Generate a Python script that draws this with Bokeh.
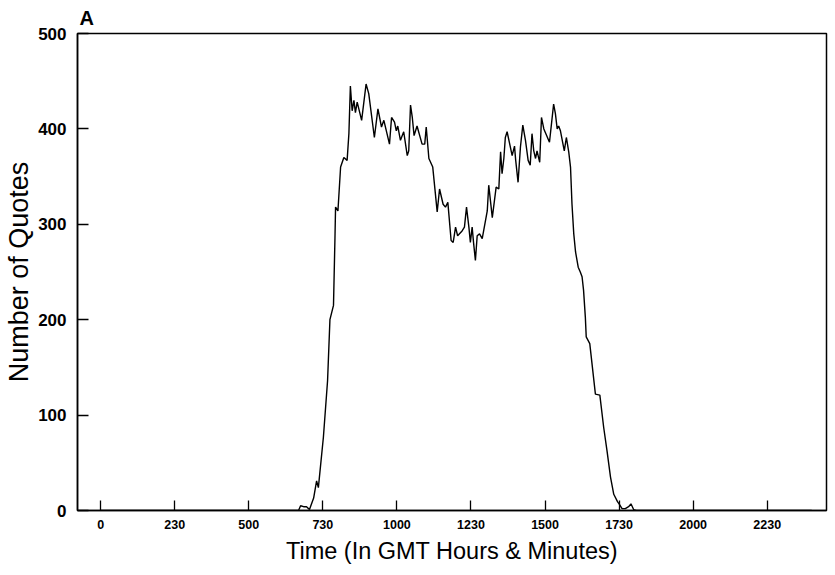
from bokeh.plotting import figure
from bokeh.models import Range1d, FixedTicker, Title
from bokeh.embed import file_html
from bokeh.resources import INLINE

# Time of day (GMT, decimal hours) and number of quotes
time_hours = [0.0, 6.68, 6.75, 6.85, 6.95, 7.05, 7.19, 7.29, 7.35, 7.52, 7.66, 7.74, 7.86, 7.91,
              7.93, 8.01, 8.10, 8.21, 8.32, 8.38, 8.43, 8.49, 8.55, 8.60, 8.66, 8.81, 8.96, 9.05,
              9.24, 9.36, 9.48, 9.56, 9.75, 9.82, 9.92, 9.98, 10.03, 10.12, 10.23, 10.35, 10.40,
              10.46, 10.52, 10.58, 10.68, 10.85, 10.94, 10.99, 11.08, 11.21, 11.36, 11.44, 11.56,
              11.64, 11.72, 11.83, 11.90, 11.98, 12.05, 12.20, 12.28, 12.35, 12.43, 12.48, 12.54,
              12.59, 12.65, 12.71, 12.79, 12.88, 13.05, 13.10, 13.22, 13.35, 13.44, 13.50, 13.55,
              13.61, 13.66, 13.72, 13.89, 13.97, 14.01, 14.09, 14.17, 14.25, 14.34, 14.43, 14.50,
              14.56, 14.62, 14.68, 14.73, 14.82, 14.88, 14.96, 15.15, 15.29, 15.35, 15.41, 15.46,
              15.52, 15.65, 15.72, 15.80, 15.86, 15.91, 15.97, 16.03, 16.12, 16.19, 16.25, 16.30,
              16.36, 16.39, 16.51, 16.70, 16.85, 16.98, 17.09, 17.21, 17.32, 17.45, 17.50, 17.60,
              17.71, 17.82, 17.90, 17.99, 18.08, 24.0]
quotes = [0, 0, 5, 4, 4, 1, 13, 31, 24, 77, 136, 200, 215, 286,
          318, 314, 360, 370, 367, 395, 445, 419, 430, 417, 428, 409, 447, 437,
          391, 421, 402, 409, 384, 412, 407, 398, 403, 388, 397, 372, 377,
          425, 412, 393, 403, 384, 384, 402, 369, 360, 313, 337, 321,
          318, 323, 283, 281, 297, 288, 293, 297, 318, 297, 281, 297,
          280, 262, 288, 290, 285, 314, 341, 307, 339, 337, 376, 353,
          369, 391, 397, 372, 382, 367, 344, 381, 404, 388, 367, 362,
          395, 377, 369, 377, 365, 412, 400, 386, 426, 416, 400, 403,
          398, 377, 391, 376, 360, 321, 290, 271, 255, 250, 245, 231,
          203, 182, 175, 122, 121, 87, 63, 35, 17, 9, 7, 2,
          2, 4, 7, 1, 0, 0]

tick_positions = [0, 2.5, 5, 7.5, 10, 12.5, 15, 17.5, 20, 22.5]
tick_labels = ["0", "230", "500", "730", "1000", "1230", "1500", "1730", "2000", "2230"]
y_ticks = [0, 100, 200, 300, 400, 500]

FONT = "Liberation Sans"

p = figure(width=830, height=570, output_backend="svg", toolbar_location=None,
           x_range=Range1d(-0.78, 24.5), y_range=Range1d(0, 500),
           min_border_left=77, min_border_right=4, min_border_top=33, min_border_bottom=60)
p.background_fill_color = "white"
p.border_fill_color = "white"
p.outline_line_color = "black"
p.outline_line_width = 1.5
p.outline_line_alpha = 1.0
p.xgrid.visible = False
p.ygrid.visible = False

p.line(time_hours, quotes, line_color="black", line_width=1.4)

xa = p.xaxis[0]
xa.ticker = FixedTicker(ticks=tick_positions)
xa.major_label_overrides = {t: l for t, l in zip(tick_positions, tick_labels)}
xa.major_tick_in = 10
xa.major_tick_out = 0
xa.minor_tick_in = 0
xa.minor_tick_out = 0
xa.major_tick_line_color = "black"
xa.major_tick_line_width = 1.3
xa.axis_line_color = "black"
xa.axis_line_width = 1.5
xa.major_label_text_font = FONT
xa.major_label_text_font_style = "bold"
xa.major_label_text_font_size = "12.5px"
xa.major_label_text_color = "black"
xa.major_label_standoff = 9
xa.axis_label = "Time (In GMT Hours & Minutes)"
xa.axis_label_text_font = FONT
xa.axis_label_text_font_style = "normal"
xa.axis_label_text_font_size = "23.5px"
xa.axis_label_text_color = "black"
xa.axis_label_standoff = 6

ya = p.yaxis[0]
ya.ticker = FixedTicker(ticks=y_ticks)
ya.major_tick_in = 11
ya.major_tick_out = 0
ya.minor_tick_in = 0
ya.minor_tick_out = 0
ya.major_tick_line_color = "black"
ya.major_tick_line_width = 1.3
ya.axis_line_color = "black"
ya.axis_line_width = 1.5
ya.major_label_text_font = FONT
ya.major_label_text_font_style = "bold"
ya.major_label_text_font_size = "17px"
ya.major_label_text_color = "black"
ya.major_label_standoff = 11
ya.axis_label = "Number of Quotes"
ya.axis_label_text_font = FONT
ya.axis_label_text_font_style = "normal"
ya.axis_label_text_font_size = "27px"
ya.axis_label_text_color = "black"
ya.axis_label_standoff = 1

panel = Title(text="A", align="left", offset=2, standoff=9, text_font=FONT,
              text_font_style="bold", text_font_size="20px", text_color="black")
p.add_layout(panel, "above")

open("out.html", "w").write(file_html(p, INLINE))
